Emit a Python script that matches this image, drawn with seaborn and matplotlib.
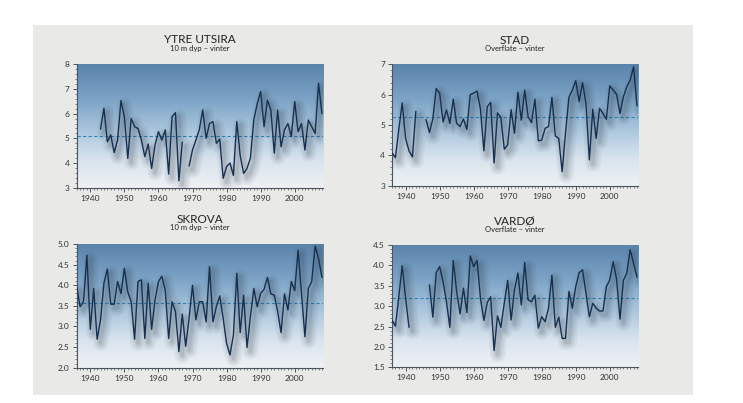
import numpy as np
import pandas as pd
import matplotlib
matplotlib.use("Agg")
import matplotlib.pyplot as plt
import seaborn as sns
from matplotlib.colors import LinearSegmentedColormap
from matplotlib import patheffects as pe
from matplotlib.ticker import MultipleLocator, FormatStrFormatter
from matplotlib.patches import Rectangle

nan = np.nan
years = list(range(1936, 2009))

# --- data (winter temperatures) ---
utsira = [nan] * 7 + [
    5.37, 6.22, 4.86, 5.14, 4.42, 4.93, 6.53, 5.88, 4.19, 5.81,
    5.47, 5.40, 4.93, 4.26, 4.77, 3.78, 4.73, 5.27, 4.93, 5.34,
    3.55, 5.88, 6.04, 3.28, 4.85, nan, 3.88, 4.53, 4.93, 5.35,
    6.15, 5.00, 5.60, 5.68, 4.80, 4.97, 3.38, 3.85, 4.00, 3.50,
    5.68, 4.30, 3.58, 3.78, 4.20, 5.75, 6.40, 6.90, 5.47, 6.55,
    6.15, 4.40, 6.15, 4.66, 5.34, 5.60, 5.07, 6.49, 5.27, 5.60,
    4.53, 5.74, 5.47, 5.20, 7.23, 6.00]

stad = [
    4.08, 3.93, 4.85, 5.73, 4.55, 4.15, 3.95, 5.45, nan, nan,
    5.18, 4.75, 5.20, 6.20, 6.05, 5.10, 5.50, 5.05, 5.85, 5.05,
    4.95, 5.20, 4.85, 6.00, 6.05, 6.12, 5.52, 4.15, 5.60, 5.75,
    3.75, 5.40, 5.25, 4.20, 4.35, 5.50, 4.73, 6.08, 5.16, 6.15,
    5.27, 5.08, 5.85, 4.48, 4.50, 4.89, 4.95, 5.91, 4.64, 4.56,
    3.46, 4.75, 5.91, 6.15, 6.46, 5.77, 6.40, 5.71, 3.85, 5.52,
    4.56, 5.55, 5.38, 5.19, 6.29, 6.15, 6.01, 5.38, 5.93, 6.26,
    6.48, 6.92, 5.63]

skrova = [
    3.96, 3.48, 3.60, 4.73, 2.93, 3.92, 2.69, 3.16, 4.05, 4.39,
    3.54, 3.54, 4.09, 3.80, 4.41, 3.84, 3.60, 2.69, 4.09, 4.13,
    2.71, 4.05, 2.93, 3.64, 4.09, 4.22, 3.88, 2.71, 3.60, 3.36,
    2.39, 3.30, 2.52, 3.20, 4.00, 3.16, 3.60, 3.60, 3.11, 4.45,
    3.11, 3.48, 3.74, 3.20, 2.59, 2.31, 2.79, 4.29, 2.85, 3.76,
    2.49, 3.24, 3.92, 3.48, 3.80, 3.90, 4.19, 3.79, 3.76, 3.36,
    2.85, 3.79, 3.40, 4.09, 3.87, 4.85, 3.80, 2.75, 3.92, 4.09,
    4.95, 4.65, 4.19]

vardo = [
    2.66, 2.51, 3.23, 3.99, 3.19, 2.48, nan, nan, nan, nan,
    nan, 3.52, 2.73, 3.82, 3.97, 3.60, 3.11, 2.48, 4.12, 3.36,
    2.81, 3.44, 2.84, 4.23, 3.97, 4.12, 3.19, 2.65, 3.09, 3.23,
    1.91, 2.76, 2.48, 3.07, 3.63, 2.66, 3.40, 3.81, 3.03, 4.07,
    3.15, 3.11, 3.27, 2.46, 2.74, 2.62, 2.95, 3.76, 2.48, 2.73,
    2.21, 2.21, 3.36, 2.95, 3.48, 3.82, 3.89, 3.32, 2.74, 3.07,
    2.95, 2.88, 2.88, 3.48, 3.64, 4.09, 3.66, 2.68, 3.63, 3.81,
    4.38, 4.05, 3.71]

titles = ["YTRE UTSIRA", "STAD", "SKROVA", "VARDØ"]
subtitles = ["10 m dyp – vinter", "Overflate – vinter", "10 m dyp – vinter", "Overflate – vinter"]
means = [5.11, 5.27, 3.58, 3.21]
ylims = [(3, 8), (3, 7), (2.0, 5.0), (1.5, 4.5)]
ystep = [1, 1, 0.5, 0.5]
yfmt = ["%d", "%d", "%.1f", "%.1f"]
series = [utsira, stad, skrova, vardo]

# --- style ---
sns.set_style("ticks")
plt.rcParams["font.family"] = ["Lato", "DejaVu Sans"]

fig = plt.figure(figsize=(7.43, 4.03), dpi=100)
fig.patch.set_facecolor("white")
fig.add_artist(Rectangle((0.0444, 0.0199), 0.888, 0.918, transform=fig.transFigure,
                         facecolor="#e9e9e7", edgecolor="none", zorder=-10))

positions = [
    [0.1032, 0.5342, 0.3315, 0.3062],
    [0.5276, 0.5392, 0.3311, 0.3012],
    [0.1032, 0.0876, 0.3315, 0.3069],
    [0.5276, 0.0886, 0.3311, 0.3035],
]

cmap = LinearSegmentedColormap.from_list(
    "bg", [(0.0, "#5a83ab"), (0.3, "#7fa6c8"), (0.55, "#adc8de"),
           (0.78, "#d9e4ee"), (1.0, "#eef1f4")])
grad = np.linspace(0, 1, 256).reshape(-1, 1)

line_color = "#17304f"
sc = "#2c3846"
shadow = [
    pe.SimpleLineShadow(offset=(2.6, -3.0), shadow_color=sc, alpha=0.05, linewidth=11),
    pe.SimpleLineShadow(offset=(2.6, -3.0), shadow_color=sc, alpha=0.06, linewidth=8),
    pe.SimpleLineShadow(offset=(2.6, -3.0), shadow_color=sc, alpha=0.08, linewidth=5),
    pe.SimpleLineShadow(offset=(2.4, -2.8), shadow_color=sc, alpha=0.10, linewidth=2.5),
    pe.Normal(),
]

for i in range(4):
    ax = fig.add_axes(positions[i])
    x0, x1 = 1936, 2008.3
    y0, y1 = ylims[i]
    ax.imshow(grad, aspect="auto", cmap=cmap, extent=(x0, x1, y0, y1),
              origin="upper", zorder=0, interpolation="bilinear")

    df = pd.DataFrame({"year": years, "temp": series[i]})
    df["seg"] = df["temp"].isna().cumsum()
    df = df.dropna()
    ax.axhline(means[i], color="#2f84bb", lw=0.8, ls=(0, (3, 2)), zorder=2)
    sns.lineplot(data=df, x="year", y="temp", units="seg", estimator=None,
                 color=line_color, lw=1.0, ax=ax, zorder=3,
                 path_effects=shadow)

    ax.set_xlim(x0, x1)
    ax.set_ylim(y0, y1)
    ax.set_xlabel("")
    ax.set_ylabel("")
    ax.xaxis.set_major_locator(MultipleLocator(10))
    ax.xaxis.set_minor_locator(MultipleLocator(1))
    ax.yaxis.set_major_locator(MultipleLocator(ystep[i]))
    ax.yaxis.set_minor_locator(MultipleLocator(ystep[i] / 5))
    ax.yaxis.set_major_formatter(FormatStrFormatter(yfmt[i]))
    ax.set_xticks([1940, 1950, 1960, 1970, 1980, 1990, 2000])
    for s in ["top", "right"]:
        ax.spines[s].set_visible(False)
    for s in ["left", "bottom"]:
        ax.spines[s].set_color("#4a5560")
        ax.spines[s].set_linewidth(0.8)
    ax.tick_params(which="major", length=3, width=0.7, colors="#4a5560",
                   labelsize=6, labelcolor="#333333", pad=2)
    ax.tick_params(which="minor", length=1.6, width=0.5, colors="#4a5560")

    ax.text(0.5, 1.20, titles[i], transform=ax.transAxes, ha="center", va="center",
            fontsize=8.5, color="#222222")
    ax.text(0.5, 1.13, subtitles[i], transform=ax.transAxes, ha="center", va="center",
            fontsize=5.5, color="#222222")

fig.savefig("out.png", dpi=100)
